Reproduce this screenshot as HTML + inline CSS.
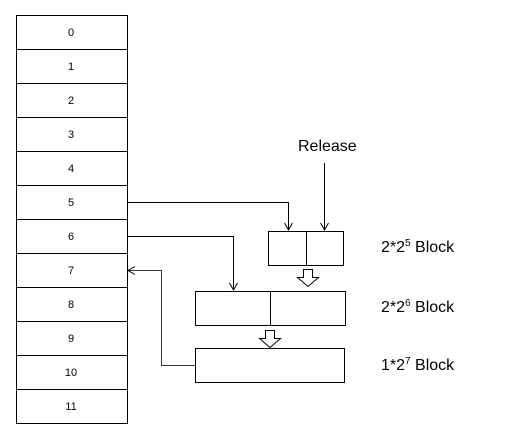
<!DOCTYPE html>
<html><head><style>
body{margin:0;background:#fff;}
svg text{font-family:"Liberation Sans",sans-serif;fill:#000;}
</style></head><body>
<svg width="524" height="442" viewBox="0 0 524 442" xmlns="http://www.w3.org/2000/svg">
<defs><marker id="a" markerWidth="10" markerHeight="10" refX="8" refY="5" orient="auto" markerUnits="userSpaceOnUse"><path d="M1,1 L8,5 L1,9" fill="none" stroke="#000" stroke-width="1"/></marker></defs>
<g stroke="#000" stroke-width="1" fill="none">
<rect x="16.5" y="15.5" width="111" height="408"/>
<line x1="16" y1="49.5" x2="127" y2="49.5"/><line x1="16" y1="83.5" x2="127" y2="83.5"/>
<line x1="16" y1="117.5" x2="127" y2="117.5"/><line x1="16" y1="151.5" x2="127" y2="151.5"/>
<line x1="16" y1="185.5" x2="127" y2="185.5"/><line x1="16" y1="219.5" x2="127" y2="219.5"/>
<line x1="16" y1="253.5" x2="127" y2="253.5"/><line x1="16" y1="287.5" x2="127" y2="287.5"/>
<line x1="16" y1="321.5" x2="127" y2="321.5"/><line x1="16" y1="355.5" x2="127" y2="355.5"/>
<line x1="16" y1="389.5" x2="127" y2="389.5"/>
<rect x="268.5" y="231.5" width="75" height="34"/><line x1="306.5" y1="231" x2="306.5" y2="265"/>
<rect x="195.5" y="291.5" width="150" height="34"/><line x1="270.5" y1="291" x2="270.5" y2="325"/>
<rect x="195.5" y="348.5" width="149" height="34"/>
<polyline points="127,202.5 288.5,202.5 288.5,230" marker-end="url(#a)"/>
<line x1="324.5" y1="163" x2="324.5" y2="230" marker-end="url(#a)"/>
<polyline points="127,236.5 233.5,236.5 233.5,290" marker-end="url(#a)"/>
<polyline points="195,365.5 161.5,365.5 161.5,270.5 128,270.5" marker-end="url(#a)" stroke="#333"/>
<path d="M303.5,269.5 h9 v8 h6 l-10.5,9 l-10.5,-9 h6 z"/>
<path d="M265.5,330.5 h9 v8 h6 l-10.5,9 l-10.5,-9 h6 z"/>
</g>
<g font-size="11" text-anchor="middle">
<text x="71" y="36">0</text><text x="71" y="70">1</text><text x="71" y="104">2</text>
<text x="71" y="138">3</text><text x="71" y="172">4</text><text x="71" y="206">5</text>
<text x="71" y="240">6</text><text x="71" y="274">7</text><text x="71" y="308">8</text>
<text x="71" y="342">9</text><text x="71" y="376">10</text><text x="71" y="410">11</text>
</g>
<g font-size="16">
<text x="298" y="151">Release</text>
<text x="381" y="252">2*2<tspan font-size="10" dy="-6">5</tspan><tspan dy="6"> Block</tspan></text>
<text x="381" y="312">2*2<tspan font-size="10" dy="-6">6</tspan><tspan dy="6"> Block</tspan></text>
<text x="381" y="370">1*2<tspan font-size="10" dy="-6">7</tspan><tspan dy="6"> Block</tspan></text>
</g>
</svg>
</body></html>
